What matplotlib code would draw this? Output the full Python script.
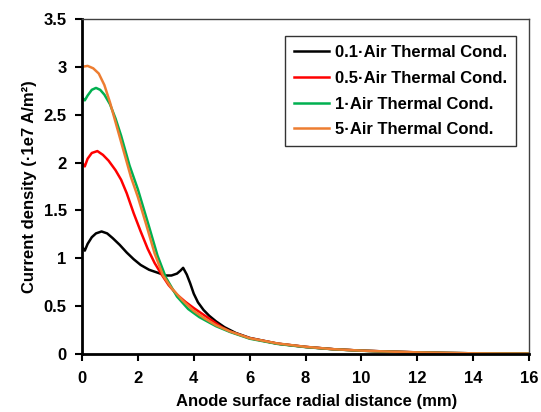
import numpy as np
import matplotlib
matplotlib.use("Agg")
import matplotlib.pyplot as plt

plt.rcParams["font.family"] = ["Liberation Sans", "DejaVu Sans"]
plt.rcParams["font.weight"] = "bold"

# 0.1 x conductivitate aer
x_01 = [0, 0.1, 0.2, 0.35, 0.5, 0.7, 0.9, 1.1, 1.35, 1.6, 1.85, 2.1, 2.4, 2.7,
        3.0, 3.2, 3.4, 3.52, 3.62, 3.75, 3.87, 4.0, 4.15, 4.35, 4.55, 4.8,
        5.1, 5.5, 6, 7, 8, 9, 10, 11, 12, 13, 14, 15, 16]
y_01 = [1.12, 1.08, 1.15, 1.22, 1.26, 1.28, 1.26, 1.21, 1.14, 1.06, 0.99, 0.93,
        0.88, 0.85, 0.82, 0.82, 0.84, 0.87, 0.90, 0.83, 0.74, 0.63, 0.54, 0.46,
        0.40, 0.34, 0.28, 0.22, 0.168, 0.108, 0.074, 0.05, 0.035, 0.025, 0.017,
        0.011, 0.007, 0.005, 0.004]

# 0.5 x conductivitate aer
x_05 = [0, 0.1, 0.2, 0.35, 0.55, 0.75, 0.95, 1.2, 1.4, 1.6, 1.85, 2.1, 2.35,
        2.6, 2.85, 3.1, 3.4, 3.7, 4.0, 4.3, 4.6, 5.0, 5.3, 6, 7, 8, 9, 10, 11,
        12, 13, 14, 15, 16]
y_05 = [2.0, 1.96, 2.04, 2.10, 2.12, 2.08, 2.02, 1.92, 1.82, 1.68, 1.47, 1.28,
        1.10, 0.95, 0.83, 0.72, 0.62, 0.545, 0.48, 0.42, 0.36, 0.28, 0.235,
        0.165, 0.108, 0.074, 0.05, 0.035, 0.025, 0.017, 0.011, 0.007, 0.005,
        0.004]

# 1 x conductivitate aer
x_1 = [0, 0.1, 0.2, 0.35, 0.5, 0.65, 0.8, 1.0, 1.2, 1.4, 1.7, 2.0, 2.4, 2.7,
       3.0, 3.4, 3.8, 4.2, 4.8, 5.3, 6, 7, 8, 9, 10, 11, 12, 13, 14, 15, 16]
y_1 = [2.68, 2.65, 2.70, 2.76, 2.78, 2.76, 2.71, 2.61, 2.46, 2.28, 1.97, 1.72,
       1.33, 1.03, 0.80, 0.60, 0.47, 0.385, 0.29, 0.23, 0.16, 0.105, 0.072,
       0.049, 0.034, 0.024, 0.016, 0.011, 0.007, 0.005, 0.004]

# 5 x conductivitate aer
x_5 = [0, 0.2, 0.4, 0.6, 0.8, 1.0, 1.25, 1.5, 1.75, 2.0, 2.3, 2.6, 2.9, 3.2,
       3.6, 4.0, 4.4, 4.8, 5.3, 6, 7, 8, 9, 10, 11, 12, 13, 14, 15, 16]
y_5 = [3.0, 3.01, 2.985, 2.93, 2.81, 2.63, 2.37, 2.11, 1.85, 1.64, 1.35, 1.05,
       0.82, 0.69, 0.56, 0.45, 0.37, 0.30, 0.235, 0.165, 0.11, 0.075, 0.05,
       0.035, 0.025, 0.017, 0.011, 0.007, 0.005, 0.004]

serii = [
    (x_01, y_01, "0.1·Air Thermal Cond.", "#000000"),
    (x_05, y_05, "0.5·Air Thermal Cond.", "#FF0000"),
    (x_1, y_1, "1·Air Thermal Cond.", "#00B050"),
    (x_5, y_5, "5·Air Thermal Cond.", "#ED7D31"),
]

fig = plt.figure(figsize=(5.41, 4.12), dpi=100)
ax = fig.add_axes([0.1516, 0.1408, 0.8262, 0.8131])

for xs, ys, nume, cul in serii:
    ax.plot(xs, ys, color=cul, linewidth=1.8, label=nume)

ax.set_xlim(0, 16)
ax.set_ylim(0, 3.5)
ax.set_xticks(np.arange(0, 17, 2))
ax.set_yticks(np.arange(0, 3.51, 0.5))
ax.set_yticklabels(["0", "0.5", "1", "1.5", "2", "2.5", "3", "3.5"])

for s in ["left", "bottom"]:
    ax.spines[s].set_linewidth(2)
    ax.spines[s].set_color("black")
for s in ["top", "right"]:
    ax.spines[s].set_linewidth(1)
    ax.spines[s].set_color("#404040")

ax.tick_params(axis="both", direction="out", length=5, width=1.5,
               labelsize=12, top=False, right=False)
ax.tick_params(axis="x", pad=7)
ax.tick_params(axis="y", pad=6)
for lab in ax.get_xticklabels() + ax.get_yticklabels():
    lab.set_fontweight("bold")

ax.set_xlabel("Anode surface radial distance (mm)", fontsize=12,
              fontweight="bold")
ax.xaxis.set_label_coords(0.526, -0.118)
ax.set_ylabel("Current density (·1e7 A/m²)", fontsize=12,
              fontweight="bold", labelpad=5)

leg = ax.legend(loc="upper right", bbox_to_anchor=(0.971, 0.949),
                borderaxespad=0, fancybox=False, frameon=True,
                handlelength=2.1, handletextpad=0.35, labelspacing=0.64,
                borderpad=0.55, prop={"size": 12, "weight": "bold"})
leg.get_frame().set_edgecolor("black")
leg.get_frame().set_linewidth(1)

fig.savefig("out.png", dpi=100)
